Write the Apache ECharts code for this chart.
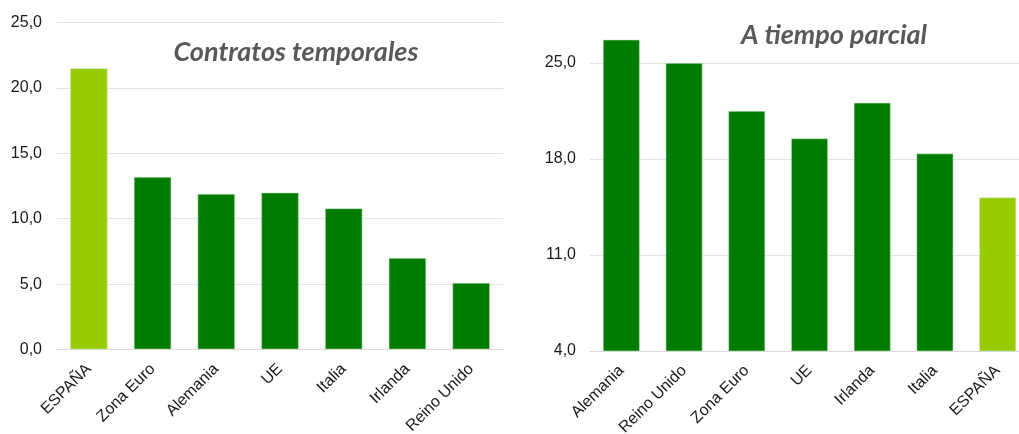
<!DOCTYPE html>
<html>
<head>
<meta charset="utf-8">
<script src="https://cdn.jsdelivr.net/npm/echarts@6/dist/echarts.min.js"></script>
<style>
  html, body { margin: 0; padding: 0; background: #fff; }
  #chart { width: 1019px; height: 434px; }
</style>
</head>
<body>
<div id="chart"></div>
<script>
// Contratos temporales (% of employees)
const tempCategories = ['ESPAÑA', 'Zona Euro', 'Alemania', 'UE', 'Italia', 'Irlanda', 'Reino Unido'];
const tempValues = [21.5, 13.2, 11.9, 12.0, 10.8, 7.0, 5.1];

// A tiempo parcial (% of employees)
const partCategories = ['Alemania', 'Reino Unido', 'Zona Euro', 'UE', 'Irlanda', 'Italia', 'ESPAÑA'];
const partValues = [26.7, 25.0, 21.5, 19.5, 22.1, 18.4, 15.2];

const highlight = 'ESPAÑA';
const DARK = '#007d00';
const LIGHT = '#99cc00';

const fmt = v => v.toFixed(1).replace('.', ',');

function barData(cats, vals) {
  return vals.map((v, i) => ({
    value: v,
    itemStyle: { color: cats[i] === highlight ? LIGHT : DARK }
  }));
}

const axisLabelStyle = { fontFamily: 'Liberation Sans, Arial, sans-serif', fontSize: 16, color: '#1a1a1a' };
const titleStyle = { fontFamily: 'Lato, "Open Sans", sans-serif', fontSize: 27, fontWeight: 'bold', fontStyle: 'italic', color: '#595959' };

const chart = echarts.init(document.getElementById('chart'), null, { renderer: 'canvas' });
chart.setOption({
  animation: false,
  title: [
    { text: 'Contratos temporales', left: 291, top: 34, textAlign: 'center', textStyle: titleStyle },
    { text: 'A tiempo parcial', left: 829, top: 17, textAlign: 'center', textStyle: titleStyle }
  ],
  grid: [
    { left: 57, top: 22.5, width: 446, height: 327, outerBoundsMode: 'none' },
    { left: 590, top: 35.5, width: 439, height: 315.5, outerBoundsMode: 'none' }
  ],
  xAxis: [
    {
      type: 'category', gridIndex: 0, data: tempCategories,
      axisLine: { lineStyle: { color: '#d9d9d9' } },
      axisTick: { show: false },
      axisLabel: Object.assign({ rotate: 45, interval: 0, margin: 17 }, axisLabelStyle)
    },
    {
      type: 'category', gridIndex: 1, data: partCategories,
      axisLine: { lineStyle: { color: '#d9d9d9' } },
      axisTick: { show: false },
      axisLabel: Object.assign({ rotate: 45, interval: 0, margin: 17 }, axisLabelStyle)
    }
  ],
  yAxis: [
    {
      type: 'value', gridIndex: 0, min: 0, max: 25, interval: 5,
      axisLine: { show: false }, axisTick: { show: false },
      splitLine: { lineStyle: { color: '#e3e3e3' } },
      axisLabel: Object.assign({ formatter: fmt, margin: 15 }, axisLabelStyle)
    },
    {
      type: 'value', gridIndex: 1, min: 4, max: 27, interval: 7,
      axisLine: { show: false }, axisTick: { show: false },
      splitLine: { lineStyle: { color: '#e3e3e3' }, showMaxLine: false },
      axisLabel: Object.assign({ formatter: fmt, margin: 14, showMaxLabel: false }, axisLabelStyle)
    }
  ],
  series: [
    {
      type: 'bar', xAxisIndex: 0, yAxisIndex: 0, barWidth: '59%',
      data: barData(tempCategories, tempValues),
      itemStyle: { borderColor: 'rgba(200,230,200,0.7)', borderWidth: 0.8 }
    },
    {
      type: 'bar', xAxisIndex: 1, yAxisIndex: 1, barWidth: '59%',
      data: barData(partCategories, partValues),
      itemStyle: { borderColor: 'rgba(200,230,200,0.7)', borderWidth: 0.8 }
    }
  ]
});
</script>
</body>
</html>
